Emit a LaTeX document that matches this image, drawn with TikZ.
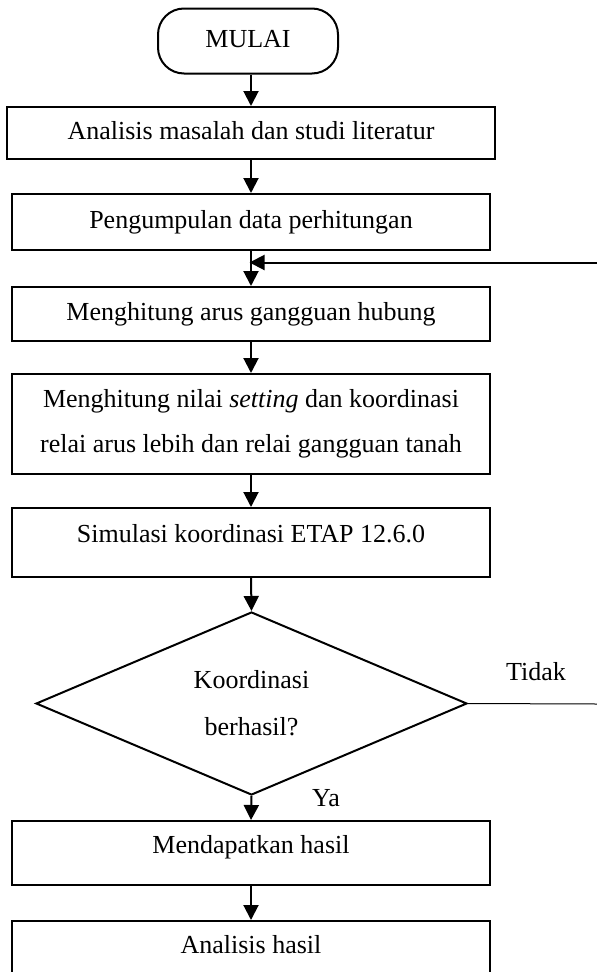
\documentclass[tikz,border=0pt]{standalone}
\usepackage{fontspec}
\setmainfont{Liberation Serif}
\usetikzlibrary{shapes.geometric,arrows.meta}
\begin{document}
\begin{tikzpicture}[x=1pt,y=-1pt,
  every node/.style={font=\fontsize{26}{30}\selectfont},
  plainbox/.style={draw,line width=2pt,rectangle,inner sep=0pt,minimum width=478pt},
  box/.style={plainbox,text height=18pt,text depth=6pt},
  upbox/.style={box,text depth=18pt},
  term/.style={draw,line width=2pt,rounded corners=26pt,inner sep=0pt,minimum width=180pt,minimum height=65pt,text height=18pt,text depth=6pt},
  decide/.style={draw,line width=2pt,diamond,inner sep=0pt,minimum width=431pt,minimum height=183pt,align=center,font=\fontsize{26}{47}\selectfont},
  arr/.style={line width=2pt,-{Triangle[width=15pt,length=15pt]}},
  thinline/.style={line width=1pt},
  lbl/.style={inner sep=0pt}]
\useasboundingbox (0,0) rectangle (597,972);
\node[term] (t) at (248,41) {MULAI};
\node[box,minimum width=488pt,minimum height=52pt] (b1) at (251,133) {Analisis masalah dan studi literatur};
\node[box,minimum height=56pt] (b2) at (251,222) {Pengumpulan data perhitungan};
\node[box,minimum height=54pt] (b3) at (251,314) {Menghitung arus gangguan hubung};
\node[plainbox,minimum height=100pt,align=center,font=\fontsize{26}{45}\selectfont] (b4) at (251,424) {Menghitung nilai \textit{setting} dan koordinasi\\relai arus lebih dan relai gangguan tanah};
\node[upbox,minimum height=69pt] (b5) at (251,542.5) {Simulasi koordinasi ETAP 12.6.0};
\node[decide] (d) at (251.5,703.5) {Koordinasi\\berhasil?};
\node[upbox,minimum height=64pt] (b6) at (251,853) {Mendapatkan hasil};
\node[upbox,minimum height=64pt] (b7) at (251,953) {Analisis hasil};
\node[lbl] (tidak) at (536,672) {Tidak};
\node[lbl] (ya) at (326,798) {Ya};
\coordinate (fbtop) at (597,262.5);
\coordinate (fbbot) at (597,704);
\draw[arr] (b1.north |- t.south) -- (b1.north);
\draw[arr] (b1.south) -- (b2.north);
\draw[arr] (b2.south) -- (b3.north);
\draw[arr] (b3.south) -- (b4.north);
\draw[arr] (b4.south) -- (b5.north);
\draw[arr] (b5.south) -- (d.north);
\draw[arr] (d.south) -- (b6.north);
\draw[arr] (b6.south) -- (b7.north);
\draw[thinline] (d.east) -- (fbbot);
\draw[arr,shorten >=-1.5pt] (fbtop) -- (fbtop -| b2.south);
\end{tikzpicture}
\end{document}
